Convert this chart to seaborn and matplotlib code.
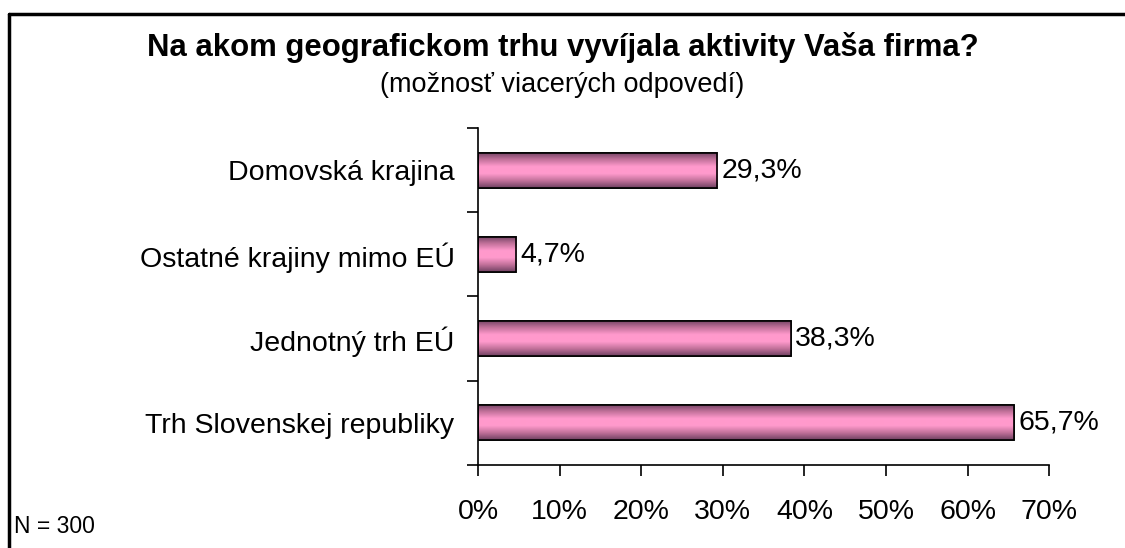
import numpy as np
import pandas as pd
import seaborn as sns
from matplotlib import pyplot as plt
from matplotlib.colors import LinearSegmentedColormap
from matplotlib.patches import Rectangle

categories = ["Domovská krajina", "Ostatné krajiny mimo EÚ", "Jednotný trh EÚ", "Trh Slovenskej republiky"]
values = [29.3, 4.7, 38.3, 65.7]
value_labels = ["29,3%", "4,7%", "38,3%", "65,7%"]
x_ticks = [0, 10, 20, 30, 40, 50, 60, 70]

sns.set_style("white")
plt.rcParams['font.family'] = ['Liberation Sans', 'DejaVu Sans']
plt.rcParams['text.color'] = 'black'
plt.rcParams['xtick.color'] = 'black'
plt.rcParams['ytick.color'] = 'black'
plt.rcParams['xtick.bottom'] = True
plt.rcParams['ytick.left'] = True

df = pd.DataFrame({"cat": categories, "val": values})

fig = plt.figure(figsize=(11.25, 5.48), dpi=100)
ax = fig.add_axes([0.425, 0.152, 0.5076, 0.614])

sns.barplot(data=df, x="val", y="cat", orient="h", color="#ff99cc",
            width=0.42, edgecolor="black", linewidth=1.2, ax=ax)

# vertical gradient inside each bar (dark edges, light pink centre)
cmap = LinearSegmentedColormap.from_list("bar", ["#6e4060", "#c07099", "#ff99cc", "#ff9acc", "#c07099", "#6e4060"])
grad = np.linspace(0, 1, 256).reshape(-1, 1)
for p in list(ax.patches):
    x0, y0 = p.get_x(), p.get_y()
    w, h = p.get_width(), p.get_height()
    im = ax.imshow(grad, cmap=cmap, aspect="auto", extent=[x0, x0 + w, y0 + h, y0],
                   zorder=p.get_zorder() + 0.1, interpolation="bilinear")
    im.set_clip_path(p)
    ax.add_patch(Rectangle((x0, y0), w, h, fill=False, edgecolor="black",
                           linewidth=1.2, zorder=p.get_zorder() + 0.2))

for i, (v, lab) in enumerate(zip(values, value_labels)):
    ax.text(v + 0.5, i, lab, va="center", ha="left", fontsize=20.5, color="black")

ax.set_xlim(0, 70)
ax.set_ylim(3.5, -0.5)
ax.set_xticks(x_ticks)
ax.set_xticklabels([f"{t}%" for t in x_ticks], fontsize=20.5)
ax.set_yticks(range(len(categories)))
ax.set_yticklabels(categories, fontsize=20.5)
ax.set_yticks(np.arange(-0.5, 4, 1), minor=True)
ax.tick_params(axis="y", which="major", left=False, length=0, pad=17)
ax.tick_params(axis="y", which="minor", left=True, length=8, width=1.2, direction="out")
ax.tick_params(axis="x", which="major", bottom=True, length=8, width=1.2, direction="out", pad=17)
ax.set_xlabel("")
ax.set_ylabel("")
for s in ["top", "right"]:
    ax.spines[s].set_visible(False)
for s in ["left", "bottom"]:
    ax.spines[s].set_color("black")
    ax.spines[s].set_linewidth(1.2)

fig.text(0.5, 0.913, "Na akom geografickom trhu vyvíjala aktivity Vaša firma?",
         ha="center", va="center", fontsize=22.4, fontweight="bold")
fig.text(0.5, 0.845, "(možnosť viacerých odpovedí)", ha="center", va="center", fontsize=19.5)
fig.text(0.012, 0.04, "N = 300", ha="left", va="center", fontsize=16.5)

# chart frame (left and top edges visible)
fig.add_artist(plt.Line2D([0.008, 0.008], [0, 0.975], color="black", linewidth=2.5))
fig.add_artist(plt.Line2D([0.008, 1.0], [0.975, 0.975], color="black", linewidth=2.5))

fig.savefig("out.png", dpi=100)
